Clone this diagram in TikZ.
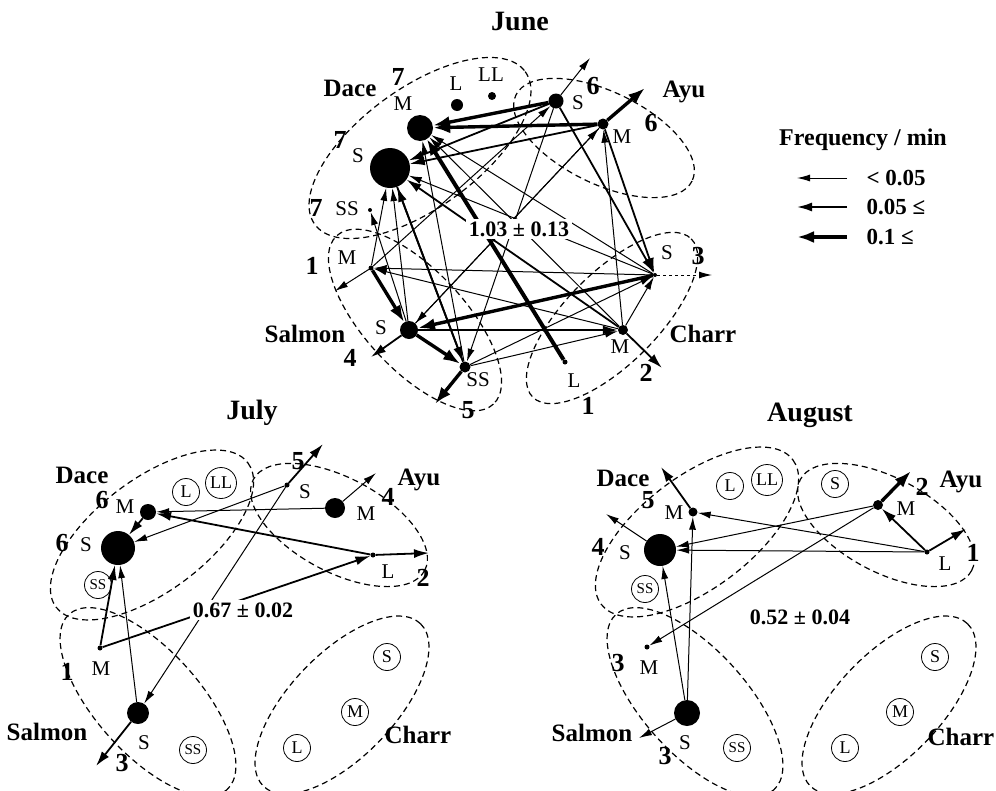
\documentclass[tikz,border=0pt]{standalone}
\usepackage{fontspec}
\setmainfont{Liberation Serif}
\usetikzlibrary{arrows.meta}
\tikzset{
 fdot/.style={circle,fill=black,inner sep=0pt,minimum size=#1},
 cnode/.style={circle,draw,line width=0.8pt,inner sep=0pt,minimum size=27pt,font=\fontsize{18}{18}\selectfont},
 cnsmall/.style={cnode,font=\fontsize{15}{15}\selectfont},
 grp/.style={dash pattern=on 6pt off 4pt,line width=1.2pt},
 athin/.style={line width=1pt,-{Latex[length=13pt,width=7pt]}},
 amed/.style={line width=1.8pt,-{Latex[length=15pt,width=9pt]}},
 athick/.style={line width=3.4pt,-{Latex[length=17pt,width=12pt]}},
 ttl/.style={font=\fontsize{28}{30}\selectfont\bfseries},
 spc/.style={font=\fontsize{25}{27}\selectfont\bfseries},
 num/.style={font=\fontsize{26}{28}\selectfont\bfseries},
 lab/.style={font=\fontsize{21}{22}\selectfont},
 val/.style={font=\fontsize{22}{24}\selectfont\bfseries,fill=white,inner sep=3pt},
 leg/.style={font=\fontsize{23}{25}\selectfont\bfseries,anchor=west},
}
\begin{document}
\begin{tikzpicture}[x=1pt,y=-1pt]
\useasboundingbox[fill=white] (0,0) rectangle (996,790);

% ================= JUNE =================
\node[ttl] (tJune) at (520,22) {June};
% group outlines
\draw[grp,rotate around={36:(420,148)}] (420,148) ellipse [x radius=130,y radius=60];
\draw[grp,rotate around={-26:(604,138)}] (604,138) ellipse [x radius=98,y radius=46];
\draw[grp,rotate around={-47:(415,320)}] (415,320) ellipse [x radius=115,y radius=50];
\draw[grp,rotate around={45:(612,318)}] (612,318) ellipse [x radius=112,y radius=46];
% dots
\node[fdot=26pt] (JDM) at (420,128) {};
\node[fdot=40pt] (JDS) at (390,168) {};
\node[fdot=12pt] (JDL) at (457,105) {};
\node[fdot=8pt] (JDLL) at (492,96) {};
\node[fdot=4pt] (JDSS) at (370,210) {};
\node[fdot=15pt] (JAS) at (556,101) {};
\node[fdot=11pt] (JAM) at (603,124) {};
\node[fdot=5pt] (JSM) at (371,268) {};
\node[fdot=18pt] (JSS) at (409,330) {};
\node[fdot=11pt] (JSSS) at (465,367) {};
\node[fdot=4pt] (JCS) at (655,275) {};
\node[fdot=10pt] (JCM) at (623,330) {};
\node[fdot=5pt] (JCL) at (565,362) {};
% free ends
\coordinate (JoAS) at (590,58);
\coordinate (JoAM) at (645,88);
\coordinate (JoSM) at (335,291);
\coordinate (JoSS) at (371,357);
\coordinate (JoSSS) at (435,404);
\coordinate (JoCS) at (712,275);
\coordinate (JoCM) at (662,368);
% thin arrows
\draw[athin] (JAS) -- (JoAS);
\draw[athin] (JSM) -- (JoSM);
\draw[athin,dashed] (JCS) -- (JoCS);
\draw[athin] (JCM) -- (JAM);
\draw[athin] (JCM) -- (JCS);
\draw[athin] (JSSS) -- (JCS);
\draw[athin] (JSS) -- (JDSS);
\draw[athin] (JSS) -- (JDS);
\draw[athin] (JSM) -- (JDS);
\draw[athin] (JCS) -- (JSM);
\draw[athin] (JCM) -- (JSM);
\draw[athin] (JAS) -- (JSSS);
\draw[athin] (JSSS) -- (JCM);
\draw[athin] (JSS) -- (JAM);
\draw[athin] (JSM) -- (JAS);
\draw[athin] (JCM) -- (JDM);
\draw[athin] (JCS) -- (JDS);
\draw[athin] (JSSS) -- (JDM);
\draw[athin] (JAM) -- (JSS);
\draw[athin] (JCS) -- (JDM);
% medium arrows
\draw[amed] (JSS) -- (JoSS);
\draw[amed] (JSS) -- (JCM);
\draw[amed] (JCM) -- (JoCM);
\draw[amed] (JAS) -- (JCS);
\draw[amed] (JCM) -- (JDS);
\draw[amed] (JSSS) -- (JDS);
\draw[amed] (JDS) -- (JSSS);
\draw[amed] (JAM) -- (JDS);
\draw[amed] (JAS) -- (JDS);
\draw[amed] (JAM) -- (JCS);
% thick arrows
\draw[athick] (JAM) -- (JDM);
\draw[athick] (JAS) -- (JDM);
\draw[athick] (JSM) -- (JSS);
\draw[athick] (JSS) -- (JSSS);
\draw[athick] (JCS) -- (JSS);
\draw[athick] (JSSS) -- (JoSSS);
\draw[athick] (JAM) -- (JoAM);
\draw[line width=4pt,-{Latex[length=16pt,width=12pt]}] (JCL) -- (JDM);
% labels
\node[val] (vJune) at (519,229) {1.03 ± 0.13};
\node[spc] (nJDace) at (350,88) {Dace};
\node[num] (nJ7a) at (398,77) {7};
\node[lab] (nJDM) at (403,104) {M};
\node[lab] (nJDL) at (456,84) {L};
\node[lab] (nJDLL) at (491,75) {LL};
\node[num] (nJ7b) at (340,140) {7};
\node[lab] (nJDS) at (358,156) {S};
\node[num] (nJ7c) at (316,208) {7};
\node[lab] (nJDSS) at (347,209) {SS};
\node[lab] (nJAS) at (578,103) {S};
\node[num] (nJ6a) at (593,86) {6};
\node[spc] (nJAyu) at (684,92) {Ayu};
\node[num] (nJ6b) at (651,123) {6};
\node[lab] (nJAM) at (622,137) {M};
\node[num] (nJ1a) at (312,266) {1};
\node[lab] (nJSM) at (347,258) {M};
\node[lab] (nJSS) at (381,328) {S};
\node[spc] (nJSalmon) at (305,334) {Salmon};
\node[num] (nJ4) at (350,358) {4};
\node[lab] (nJSSS) at (478,380) {SS};
\node[num] (nJ5) at (468,410) {5};
\node[lab] (nJCS) at (667,253) {S};
\node[num] (nJ3) at (698,256) {3};
\node[lab] (nJCM) at (620,347) {M};
\node[spc] (nJCharr) at (703,334) {Charr};
\node[num] (nJ2) at (646,373) {2};
\node[lab] (nJCL) at (574,381) {L};
\node[num] (nJ1b) at (588,406) {1};

% ================= LEGEND =================
\node[spc,font=\fontsize{24}{26}\selectfont\bfseries] (tLeg) at (863,140) {Frequency / min};
\coordinate (L1s) at (847,178); \coordinate (L1e) at (797,178);
\coordinate (L2s) at (847,207); \coordinate (L2e) at (797,207);
\coordinate (L3s) at (847,237); \coordinate (L3e) at (797,237);
\draw[athin] (L1s) -- (L1e);
\draw[amed] (L2s) -- (L2e);
\draw[athick] (L3s) -- (L3e);
\node[leg] (tL1) at (863,178) {< 0.05};
\node[leg] (tL2) at (863,207) {0.05 ≤};
\node[leg] (tL3) at (863,237) {0.1 ≤};

% ================= JULY =================
\node[ttl] (tJuly) at (252,413) {July};
\draw[grp,rotate around={37:(152,535)}] (152,535) ellipse [x radius=120,y radius=56];
\draw[grp,rotate around={-28:(339,525)}] (339,525) ellipse [x radius=97,y radius=47];
\draw[grp,rotate around={-48:(148,702)}] (148,702) ellipse [x radius=118,y radius=52];
\draw[grp,rotate around={46:(342,705)}] (342,705) ellipse [x radius=113,y radius=52];
\node[fdot=16pt] (UDM) at (148,512) {};
\node[fdot=34pt] (UDS) at (118,548) {};
\node[cnode] (UDL) at (186,492) {L};
\node[cnode,minimum size=31pt] (UDLL) at (221,483) {LL};
\node[cnsmall] (UDSS) at (98,585) {SS};
\node[fdot=5pt] (UAS) at (287,485) {};
\node[fdot=20pt] (UAM) at (335,508) {};
\node[fdot=5pt] (UAL) at (373,555) {};
\node[fdot=5pt] (USM) at (100,648) {};
\node[fdot=22pt] (USS) at (138,713) {};
\node[cnsmall] (USSS) at (193,750) {SS};
\node[cnode] (UCS) at (387,657) {S};
\node[cnode] (UCM) at (355,712) {M};
\node[cnode] (UCL) at (297,748) {L};
\coordinate (UoAS) at (323,444);
\coordinate (UoAM) at (376,473);
\coordinate (UoAL) at (429,553);
\coordinate (UoSS) at (96,766);
\draw[athin] (UAM) -- (UDM);
\draw[amed] (UAL) -- (UDM);
\draw[athin] (UAS) -- (UDS);
\draw[amed] (UDM) -- (UDS);
\draw[amed] (USM) -- (UDS);
\draw[amed] (USM) -- (UAL);
\draw[athin] (USS) -- (UDS);
\draw[athin] (UAS) -- (USS);
\draw[amed] (UAS) -- (UoAS);
\draw[athin] (UAM) -- (UoAM);
\draw[amed] (UAL) -- (UoAL);
\draw[amed] (USS) -- (UoSS);
\node[val] (vJuly) at (243,610) {0.67 ± 0.02};
\node[spc] (nUDace) at (82,475) {Dace};
\node[num] (nU6a) at (102,500) {6};
\node[lab] (nUDM) at (125,507) {M};
\node[num] (nU6b) at (62,543) {6};
\node[lab] (nUDS) at (86,545) {S};
\node[lab] (nUAS) at (305,492) {S};
\node[num] (nU5) at (298,461) {5};
\node[spc] (nUAyu) at (419,480) {Ayu};
\node[lab] (nUAM) at (366,514) {M};
\node[num] (nU4) at (388,497) {4};
\node[lab] (nUAL) at (388,572) {L};
\node[num] (nU2) at (423,578) {2};
\node[lab] (nUSM) at (101,669) {M};
\node[num] (nU1) at (67,672) {1};
\node[spc] (nUSalmon) at (47,732) {Salmon};
\node[lab] (nUSS) at (144,743) {S};
\node[num] (nU3) at (122,763) {3};
\node[spc] (nUCharr) at (418,735) {Charr};

% ================= AUGUST =================
\node[ttl] (tAug) at (810,415) {August};
\draw[grp,rotate around={37:(697,532)}] (697,532) ellipse [x radius=120,y radius=56];
\draw[grp,rotate around={-28:(886,525)}] (886,525) ellipse [x radius=97,y radius=47];
\draw[grp,rotate around={-48:(695,702)}] (695,702) ellipse [x radius=118,y radius=52];
\draw[grp,rotate around={46:(889,705)}] (889,705) ellipse [x radius=113,y radius=52];
\node[fdot=9pt] (ADM) at (693,512) {};
\node[fdot=32pt] (ADS) at (660,550) {};
\node[cnode] (ADL) at (730,486) {L};
\node[cnode,minimum size=31pt] (ADLL) at (767,480) {LL};
\node[cnsmall] (ADSS) at (645,589) {SS};
\node[cnode] (AAS) at (835,484) {S};
\node[fdot=10pt] (AAM) at (878,505) {};
\node[fdot=5pt] (AAL) at (927,552) {};
\node[fdot=5pt] (ASM) at (647,647) {};
\node[fdot=26pt] (ASS) at (687,713) {};
\node[cnsmall] (ASSS) at (737,748) {SS};
\node[cnode] (ACS) at (935,657) {S};
\node[cnode] (ACM) at (900,712) {M};
\node[cnode] (ACL) at (845,748) {L};
\coordinate (AoDM) at (661,467);
\coordinate (AoDS) at (606,514);
\coordinate (AoAM) at (911,471);
\coordinate (AoAL) at (966,529);
\coordinate (AoSS) at (639,738);
\draw[athin] (AAL) -- (ADM);
\draw[athin] (AAL) -- (ADS);
\draw[athin] (AAM) -- (ADS);
\draw[athin] (AAM) -- (ASM);
\draw[amed] (AAL) -- (AAM);
\draw[amed] (AAL) -- (AoAL);
\draw[athick] (AAM) -- (AoAM);
\draw[athin] (ASS) -- (ADM);
\draw[athin] (ASS) -- (ADS);
\draw[athin] (ASS) -- (AoSS);
\draw[amed] (ADM) -- (AoDM);
\draw[athin] (ADS) -- (AoDS);
\node[val] (vAug) at (800,617) {0.52 ± 0.04};
\node[spc] (nADace) at (623,478) {Dace};
\node[num] (nA5) at (648,500) {5};
\node[lab] (nADM) at (674,513) {M};
\node[num] (nA4) at (598,547) {4};
\node[lab] (nADS) at (625,553) {S};
\node[spc] (nAAyu) at (961,482) {Ayu};
\node[num] (nA2) at (922,487) {2};
\node[lab] (nAAM) at (906,509) {M};
\node[lab] (nAAL) at (945,564) {L};
\node[num] (nA1) at (973,553) {1};
\node[num] (nA3a) at (618,663) {3};
\node[lab] (nASM) at (649,668) {M};
\node[spc] (nASalmon) at (592,733) {Salmon};
\node[lab] (nASS) at (685,743) {S};
\node[num] (nA3b) at (665,756) {3};
\node[spc] (nACharr) at (961,737) {Charr};
\end{tikzpicture}
\end{document}
